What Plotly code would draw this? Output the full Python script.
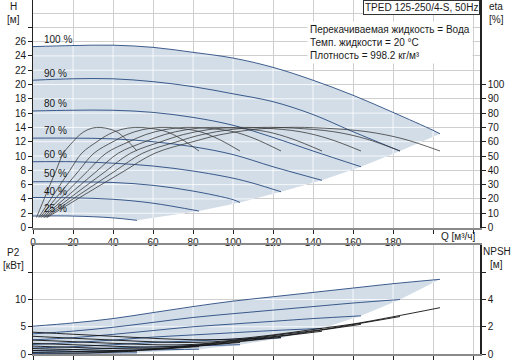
import numpy as np
import plotly.graph_objects as go

# ---------------- data ----------------
speed_labels = ["100 %", "90 %", "80 %", "70 %", "60 %", "50 %", "40 %", "25 %"]

# H-Q curves [m] vs Q [m3/h]
q_h_100 = [0, 20, 40, 60, 80, 100, 120, 140, 160, 180, 200, 203.5]
h_100 = [25.3, 25.45, 25.5, 25.2, 24.5, 23.7, 22.4, 20.6, 18.5, 16.1, 13.6, 13.1]
q_h_90 = [0, 20, 40, 60, 80, 100, 120, 140, 160, 183.5]
h_90 = [20.6, 20.8, 20.8, 20.4, 19.7, 18.7, 17.6, 15.8, 13.4, 10.7]
q_h_80 = [0, 20, 40, 60, 80, 100, 120, 140, 164]
h_80 = [16.3, 16.4, 16.4, 16.1, 15.4, 14.3, 12.6, 10.7, 8.5]
q_h_70 = [0, 20, 40, 60, 80, 100, 120, 144.5]
h_70 = [12.5, 12.5, 12.4, 12.0, 11.3, 10.2, 8.5, 6.6]
q_h_60 = [0, 20, 40, 60, 80, 100, 110, 124]
h_60 = [9.2, 9.2, 9.0, 8.6, 7.9, 6.9, 6.2, 5.0]
q_h_50 = [0, 20, 40, 60, 80, 100, 103.5]
h_50 = [6.4, 6.4, 6.3, 5.9, 5.1, 3.9, 3.5]
q_h_40 = [0, 20, 40, 60, 83]
h_40 = [4.2, 4.15, 3.95, 3.4, 2.3]
q_h_25 = [0, 20, 40, 52]
h_25 = [1.6, 1.6, 1.35, 1.0]

# efficiency curves [%]
eta_values = [7, 24, 39, 52, 60, 65, 68.5, 70, 69.5, 67, 62, 53.5]
q_eta_100 = [7, 27, 45, 61, 80, 94, 110, 127, 145, 167, 185, 203.5]
q_eta_90 = [6.3, 24.3, 40.5, 54.9, 72, 84.6, 99, 114.3, 130.5, 150.3, 166.5, 183.5]
q_eta_80 = [5.6, 21.6, 36, 48.8, 64, 75.2, 88, 101.6, 116, 133.6, 148, 164]
q_eta_70 = [4.9, 18.9, 31.5, 42.7, 56, 65.8, 77, 88.9, 101.5, 116.9, 129.5, 144.5]
q_eta_60 = [4.2, 16.2, 27, 36.6, 48, 56.4, 66, 76.2, 87, 100.2, 111, 124]
q_eta_50 = [3.5, 13.5, 22.5, 30.5, 40, 47, 55, 63.5, 72.5, 83.5, 92.5, 103.5]
q_eta_40 = [2.8, 10.8, 18, 24.4, 32, 37.6, 44, 50.8, 58, 66.8, 74, 83]
q_eta_25 = [1.75, 6.75, 11.25, 15.25, 20, 23.5, 27.5, 31.75, 36.25, 41.75, 46.25, 52]

# P2 curves [kW]
q_p_100 = [0, 20, 40, 60, 80, 100, 120, 140, 160, 180, 203.5]
p_100 = [5.1, 5.7, 6.5, 7.6, 8.7, 9.7, 10.5, 11.3, 12.1, 12.9, 13.7]
q_p_90 = [0, 20, 40, 60, 80, 100, 120, 140, 160, 183.5]
p_90 = [3.7, 4.2, 4.9, 5.8, 6.7, 7.4, 8.05, 8.7, 9.35, 10.0]
q_p_80 = [0, 20, 40, 60, 80, 100, 120, 140, 164]
p_80 = [2.6, 3.0, 3.6, 4.3, 5.0, 5.5, 6.0, 6.5, 7.0]
q_p_70 = [0, 20, 40, 60, 80, 100, 120, 144.5]
p_70 = [1.75, 2.1, 2.55, 3.1, 3.5, 3.9, 4.3, 4.7]
q_p_60 = [0, 20, 40, 60, 80, 100, 124]
p_60 = [1.1, 1.35, 1.7, 2.1, 2.4, 2.7, 2.95]
q_p_50 = [0, 20, 40, 60, 80, 103.5]
p_50 = [0.64, 0.8, 1.1, 1.3, 1.5, 1.7]
q_p_40 = [0, 20, 40, 60, 83]
p_40 = [0.33, 0.45, 0.62, 0.75, 0.88]
q_p_25 = [0, 20, 40, 52]
p_25 = [0.08, 0.14, 0.19, 0.21]

# NPSH curves [m]
q_n_100 = [0, 20, 40, 60, 80, 100, 120, 140, 160, 180, 203.5]
n_100 = [1.6, 1.45, 1.3, 1.15, 1.05, 1.1, 1.4, 1.8, 2.2, 2.73, 3.4]
q_n_90 = [0, 18, 36, 54, 72, 90, 108, 126, 144, 162, 183.5]
n_90 = [1.30, 1.17, 1.05, 0.93, 0.85, 0.89, 1.13, 1.46, 1.78, 2.21, 2.75]
q_n_80 = [0, 16, 32, 48, 64, 80, 96, 112, 128, 144, 164]
n_80 = [1.02, 0.93, 0.83, 0.74, 0.67, 0.70, 0.90, 1.15, 1.41, 1.75, 2.18]
q_n_70 = [0, 14, 28, 42, 56, 70, 84, 98, 112, 126, 144.5]
n_70 = [0.78, 0.71, 0.64, 0.56, 0.51, 0.54, 0.69, 0.88, 1.08, 1.34, 1.67]
q_n_60 = [0, 12, 24, 36, 48, 60, 72, 84, 96, 108, 124]
n_60 = [0.58, 0.52, 0.47, 0.41, 0.38, 0.40, 0.50, 0.65, 0.79, 0.98, 1.22]
q_n_50 = [0, 10, 20, 30, 40, 50, 60, 70, 80, 90, 103.5]
n_50 = [0.40, 0.36, 0.33, 0.29, 0.26, 0.28, 0.35, 0.45, 0.55, 0.68, 0.85]
q_n_40 = [0, 8, 16, 24, 32, 40, 48, 56, 64, 72, 83]
n_40 = [0.26, 0.23, 0.21, 0.18, 0.17, 0.18, 0.22, 0.29, 0.35, 0.44, 0.54]
q_n_25 = [0, 5, 10, 15, 20, 25, 30, 35, 40, 45, 52]
n_25 = [0.10, 0.09, 0.08, 0.07, 0.07, 0.07, 0.09, 0.11, 0.14, 0.17, 0.21]

x_ticks = [0, 20, 40, 60, 80, 100, 120, 140, 160, 180, 200, 220]
x_ticktext = ["0", "20", "40", "60", "80", "100", "120", "140", "160", "180", "", ""]
h_ticks = list(range(0, 30, 2))
h_ticktext = [str(v) for v in range(0, 28, 2)] + [""]
eta_ticks = list(range(0, 110, 10))
p_ticks = [0, 5, 10, 15]
p_ticktext = ["0", "5", "10", ""]
npsh_ticks = [0, 2, 4, 6]
npsh_ticktext = ["0", "2", "4", ""]

# ---------------- styling ----------------
NAVY = "#27497f"
FILL = "#d2dde8"
GRID = "#cfcfcf"
GRID_IN = "rgba(255,255,255,0.8)"
FONT = "Liberation Sans, Arial, sans-serif"
TXT = "#1a1a1a"
Q_MAX = 223.5
H_MAX = 31.82
P_MAX = 20.0

h_curves = [(q_h_100, h_100), (q_h_90, h_90), (q_h_80, h_80), (q_h_70, h_70),
            (q_h_60, h_60), (q_h_50, h_50), (q_h_40, h_40), (q_h_25, h_25)]
eta_curves = [q_eta_100, q_eta_90, q_eta_80, q_eta_70, q_eta_60, q_eta_50, q_eta_40, q_eta_25]
p_curves = [(q_p_100, p_100), (q_p_90, p_90), (q_p_80, p_80), (q_p_70, p_70),
            (q_p_60, p_60), (q_p_50, p_50), (q_p_40, p_40), (q_p_25, p_25)]
n_curves = [(q_n_100, n_100), (q_n_90, n_90), (q_n_80, n_80), (q_n_70, n_70),
            (q_n_60, n_60), (q_n_50, n_50), (q_n_40, n_40), (q_n_25, n_25)]


def region(curves):
    """polygon of the operating area and its lower boundary"""
    qa, va = curves[0]
    ends = [(q[-1], v[-1]) for q, v in curves[1:]]
    ql, vl = curves[-1]
    poly_x = list(qa) + [e[0] for e in ends] + list(ql[::-1][1:])
    poly_y = list(va) + [e[1] for e in ends] + list(vl[::-1][1:])
    low_x = list(ql) + [e[0] for e in ends[::-1][1:]] + [qa[-1]]
    low_y = list(vl) + [e[1] for e in ends[::-1][1:]] + [va[-1]]
    end_x = [e[0] for e in ends[::-1]] + [qa[-1]]
    end_y = [e[1] for e in ends[::-1]] + [va[-1]]
    return poly_x, poly_y, low_x, low_y, end_x, end_y


def inner_grid(curves, xgrid, ygrid):
    qa, va = curves[0]
    _, _, low_x, low_y, end_x, end_y = region(curves)
    gx, gy = [], []
    for g in xgrid:
        if 0 < g <= qa[-1]:
            lo = np.interp(g, low_x, low_y)
            hi = np.interp(g, qa, va)
            gx += [g, g, None]
            gy += [lo, hi, None]
    qa_arr = np.array(qa, float)
    va_arr = np.array(va, float)
    imax = int(np.argmax(va_arr))
    for h in ygrid:
        if h <= 0 or h > va_arr.max():
            continue
        if va_arr[0] >= h:
            left = 0.0
        else:
            left = float(np.interp(h, va_arr[:imax + 1], qa_arr[:imax + 1]))
        if h <= end_y[-1]:
            right = float(np.interp(h, end_y, end_x))
        else:
            tail_q = qa_arr[imax:][::-1]
            tail_v = va_arr[imax:][::-1]
            right = float(np.interp(h, tail_v, tail_q))
        if right > left:
            gx += [left, right, None]
            gy += [h, h, None]
    return gx, gy


fig = go.Figure()

# ---------- top panel ----------
px_, py_, *_ = region(h_curves)
fig.add_trace(go.Scatter(x=px_, y=py_, fill="toself", fillcolor=FILL, mode="lines",
                         line=dict(width=0), hoverinfo="skip", showlegend=False,
                         xaxis="x", yaxis="y"))
gx, gy = inner_grid(h_curves, x_ticks, list(range(0, 32, 2)))
fig.add_trace(go.Scatter(x=gx, y=gy, mode="lines", line=dict(color=GRID_IN, width=1),
                         hoverinfo="skip", showlegend=False, xaxis="x", yaxis="y"))
for q, h in h_curves:
    fig.add_trace(go.Scatter(x=q, y=h, mode="lines", line=dict(color=NAVY, width=0.9, shape="spline"),
                             showlegend=False, xaxis="x", yaxis="y"))
for q in eta_curves:
    fig.add_trace(go.Scatter(x=q, y=eta_values, mode="lines",
                             line=dict(color="#3a3a3a", width=0.8, shape="spline"),
                             showlegend=False, xaxis="x", yaxis="y2"))

# ---------- bottom panel ----------
px2, py2, *_ = region(p_curves)
fig.add_trace(go.Scatter(x=px2, y=py2, fill="toself", fillcolor=FILL, mode="lines",
                         line=dict(width=0), hoverinfo="skip", showlegend=False,
                         xaxis="x2", yaxis="y3"))
gx2, gy2 = inner_grid(p_curves, x_ticks, [5, 10, 15])
fig.add_trace(go.Scatter(x=gx2, y=gy2, mode="lines", line=dict(color=GRID_IN, width=1),
                         hoverinfo="skip", showlegend=False, xaxis="x2", yaxis="y3"))
for q, p in p_curves:
    fig.add_trace(go.Scatter(x=q, y=p, mode="lines", line=dict(color=NAVY, width=0.9, shape="spline"),
                             showlegend=False, xaxis="x2", yaxis="y3"))
for q, n in n_curves:
    fig.add_trace(go.Scatter(x=q, y=n, mode="lines", line=dict(color="#111111", width=0.9, shape="spline"),
                             showlegend=False, xaxis="x2", yaxis="y4"))

tickfont = dict(family=FONT, size=10, color=TXT)
TOP_DOM = [0.3573, 1.0]
BOT_DOM = [0.0, 0.3079]

fig.update_layout(
    width=520, height=363,
    margin=dict(l=33, r=40, t=0, b=9, autoexpand=False),
    paper_bgcolor="white", plot_bgcolor="white",
    font=dict(family=FONT, size=10, color=TXT),
    xaxis=dict(domain=[0, 1], range=[0, Q_MAX], anchor="y", tickvals=x_ticks, ticktext=x_ticktext,
               ticks="outside", ticklen=4, tickcolor="#222", showline=True, linecolor="#8a8a8a",
               linewidth=2, showgrid=True, gridcolor=GRID, gridwidth=1, zeroline=False,
               tickfont=tickfont, automargin=False),
    yaxis=dict(domain=TOP_DOM, range=[0, H_MAX], anchor="x", tickvals=h_ticks, ticktext=h_ticktext,
               ticks="outside", ticklen=4, tickcolor="#222", showline=True, linecolor="#222",
               linewidth=1, showgrid=True, gridcolor=GRID, zeroline=False, tickfont=tickfont,
               automargin=False,
               minor=dict(tickvals=[30], showgrid=True, gridcolor=GRID, ticks="")),
    yaxis2=dict(overlaying="y", side="right", anchor="x", range=[0, H_MAX * 5], tickvals=eta_ticks,
                ticks="outside", ticklen=4, tickcolor="#222", showline=True, linecolor="#222",
                linewidth=1.5, showgrid=False, zeroline=False, tickfont=tickfont, automargin=False),
    xaxis2=dict(domain=[0, 1], range=[0, Q_MAX], anchor="y3", tickvals=x_ticks,
                showticklabels=False, ticks="outside", ticklen=4, tickcolor="#222", showline=True,
                mirror=True, linecolor="#8a8a8a", linewidth=2, showgrid=True, gridcolor=GRID,
                zeroline=False, automargin=False),
    yaxis3=dict(domain=BOT_DOM, range=[0, P_MAX], anchor="x2", tickvals=p_ticks, ticktext=p_ticktext,
                ticks="outside", ticklen=4, tickcolor="#222", showline=True, linecolor="#222",
                linewidth=1, showgrid=True, gridcolor=GRID, zeroline=False, tickfont=tickfont,
                automargin=False),
    yaxis4=dict(overlaying="y3", side="right", anchor="x2", range=[0, P_MAX * 0.4],
                tickvals=npsh_ticks, ticktext=npsh_ticktext, ticks="outside", ticklen=4,
                tickcolor="#222", showline=True, linecolor="#222", linewidth=1.5, showgrid=False,
                zeroline=False, tickfont=tickfont, automargin=False),
)

ann = []
label_h = [26.3, 21.6, 17.3, 13.5, 10.2, 7.5, 5.1, 2.6]
for lab, yv in zip(speed_labels, label_h):
    ann.append(dict(x=4.5, y=yv, xref="x", yref="y", text=lab, showarrow=False,
                    xanchor="left", yanchor="middle", font=dict(size=10, color=TXT)))


def paper_x(px):
    return (px - 33) / 447.0


def paper_y(py):
    return (354 - py) / 354.0


for txt, x, y in [("H", 13, 6.5), ("[м]", 13, 19.5), ("eta", 496, 6.5), ("[%]", 496, 19.5),
                  ("P2", 13, 252), ("[кВт]", 13, 265), ("NPSH", 497, 251), ("[м]", 497, 264)]:
    ann.append(dict(x=paper_x(x), y=paper_y(y), xref="paper", yref="paper", text=txt,
                    showarrow=False, xanchor="center", yanchor="middle", font=dict(size=10, color=TXT)))

ann.append(dict(x=paper_x(458), y=paper_y(236), xref="paper", yref="paper", text="Q [м³/ч]",
                showarrow=False, xanchor="center", yanchor="middle", font=dict(size=10, color=TXT)))
ann.append(dict(x=1.0, y=1.0, xref="paper", yref="paper", text="TPED 125-250/4-S, 50Hz",
                showarrow=False, xanchor="right", yanchor="top", bgcolor="white",
                bordercolor="#333", borderwidth=1, borderpad=1, font=dict(size=10, color=TXT)))
ann.append(dict(x=paper_x(307), y=paper_y(21), xref="paper", yref="paper",
                text="Перекачиваемая жидкость = Вода<br>Темп. жидкости = 20 °C<br>Плотность = 998.2 кг/м³",
                showarrow=False, xanchor="left", yanchor="top", align="left", bgcolor="white",
                borderpad=2, font=dict(size=10, color=TXT)))
fig.update_layout(annotations=ann)

fig.write_html("out.html", config={"displayModeBar": False},
               post_script="document.body.style.margin='0';document.body.style.overflow='hidden';")
